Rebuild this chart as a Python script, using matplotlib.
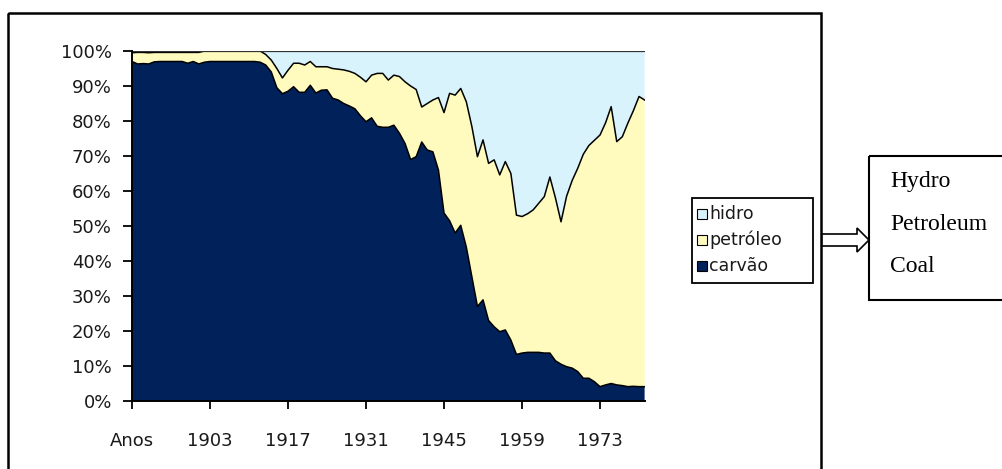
import matplotlib
matplotlib.use("Agg")
import matplotlib.pyplot as plt
import numpy as np
from matplotlib.patches import Rectangle, Polygon

# ---------------- data ----------------
start_year = 1889
n_years = 93
years = np.arange(start_year, start_year + n_years)

carvao = [97.0, 96.3, 96.4, 96.3, 96.9, 97.0, 97.0, 97.0, 97.0, 97.0,
          96.5, 97.0, 96.3, 96.8, 97.0, 97.0, 97.0, 97.0, 97.0, 97.0,
          97.0, 97.0, 97.0, 96.8, 96.0, 94.0, 89.5, 87.8, 88.5, 89.8,
          88.2, 88.2, 90.2, 88.0, 88.8, 88.9, 86.5, 86.0, 85.0, 84.3,
          83.5, 81.5, 79.8, 80.9, 78.5, 78.2, 78.2, 78.8, 76.5, 73.6,
          69.0, 69.8, 74.0, 71.7, 71.2, 66.0, 53.7, 51.5, 48.0, 50.2,
          44.0, 35.5, 27.0, 28.9, 23.0, 21.2, 19.8, 20.3, 17.4, 13.3,
          13.7, 13.9, 13.9, 13.9, 13.7, 13.7, 11.5, 10.5, 9.8, 9.4,
          8.4, 6.5, 6.5, 5.5, 4.1, 4.6, 5.0, 4.6, 4.4, 4.1,
          4.2, 4.1, 4.1]

petroleo = [2.5, 3.3, 3.2, 3.2, 2.7, 2.6, 2.6, 2.6, 2.6, 2.6,
            3.1, 2.6, 3.3, 3.2, 3.0, 3.0, 3.0, 3.0, 3.0, 3.0,
            3.0, 3.0, 3.0, 3.2, 3.0, 3.4, 5.5, 4.5, 6.0, 6.7,
            8.3, 7.8, 6.8, 7.5, 6.7, 6.6, 8.5, 8.8, 9.6, 9.9,
            10.1, 11.0, 11.4, 12.2, 15.1, 15.4, 13.5, 14.3, 16.2, 17.6,
            21.0, 19.2, 10.0, 13.3, 14.8, 20.7, 28.7, 36.4, 39.4, 39.1,
            41.5, 42.9, 42.8, 45.7, 44.9, 47.7, 44.8, 48.1, 47.6, 39.8,
            39.0, 39.6, 40.7, 42.6, 44.7, 50.3, 46.5, 40.7, 48.7, 53.6,
            58.1, 64.0, 66.5, 69.0, 71.9, 74.9, 79.1, 69.5, 71.1, 75.3,
            78.8, 82.9, 81.9]

hidro = [0.5, 0.4, 0.4, 0.5, 0.4, 0.4, 0.4, 0.4, 0.4, 0.4,
         0.4, 0.4, 0.4, 0.0, 0.0, 0.0, 0.0, 0.0, 0.0, 0.0,
         0.0, 0.0, 0.0, 0.0, 1.0, 2.6, 5.0, 7.7, 5.5, 3.5,
         3.5, 4.0, 3.0, 4.5, 4.5, 4.5, 5.0, 5.2, 5.4, 5.8,
         6.4, 7.5, 8.8, 6.9, 6.4, 6.4, 8.3, 6.9, 7.3, 8.8,
         10.0, 11.0, 16.0, 15.0, 14.0, 13.3, 17.6, 12.1, 12.6, 10.7,
         14.5, 21.6, 30.2, 25.4, 32.1, 31.1, 35.4, 31.6, 35.0, 46.9,
         47.3, 46.5, 45.4, 43.5, 41.6, 36.0, 42.0, 48.8, 41.5, 37.0,
         33.5, 29.5, 27.0, 25.5, 24.0, 20.5, 15.9, 25.9, 24.5, 20.6,
         17.0, 13.0, 14.0]

series_labels = ["hidro", "petróleo", "carvão"]
tick_every = 14
first_label = "Anos"
y_ticks = [0, 10, 20, 30, 40, 50, 60, 70, 80, 90, 100]
english_labels = ["Hydro", "Petroleum", "Coal"]

# ---------------- style ----------------
c_carvao = "#00215A"
c_petroleo = "#FFFBBF"
c_hidro = "#D9F3FC"
W, H = 1003, 469
tick_font = dict(family="DejaVu Sans", size=13)
legend_font = dict(family="DejaVu Sans", size=12.5)

fig = plt.figure(figsize=(W / 100, H / 100), dpi=100)
fig.patch.set_facecolor("white")

x = np.arange(n_years)
ax = fig.add_axes([132 / W, 1 - 401 / H, (644.6 - 132) / W, 350 / H])
ax.stackplot(x, carvao, petroleo, hidro,
             colors=[c_carvao, c_petroleo, c_hidro], linewidth=0)
cum1 = np.array(carvao)
cum2 = cum1 + np.array(petroleo)
cum3 = cum2 + np.array(hidro)
ax.plot(x, cum1, color="black", lw=1.1)
ax.plot(x, cum2, color="black", lw=1.1)
ax.plot(x, cum3, color="#333333", lw=0.9)

ax.set_xlim(0, n_years - 1)
ax.set_ylim(0, 100)
xt = list(range(0, n_years, tick_every))
ax.set_xticks(xt)
ax.set_xticklabels([first_label if i == 0 else str(years[i]) for i in xt],
                   fontdict=tick_font, color="#1a1a1a")
ax.set_yticks(y_ticks)
ax.set_yticklabels([f"{v}%" for v in y_ticks], fontdict=tick_font,
                   color="#1a1a1a")
ax.tick_params(axis="y", direction="out", length=6.5, width=1.3, pad=8)
ax.tick_params(axis="x", direction="out", length=6, width=1.3, pad=16)
for s in ["top", "right"]:
    ax.spines[s].set_visible(False)
for s in ["left", "bottom"]:
    ax.spines[s].set_linewidth(1.4)
    ax.spines[s].set_color("black")

# ---------------- overlay decorations ----------------
ov = fig.add_axes([0, 0, 1, 1], facecolor="none")
ov.set_xlim(0, W)
ov.set_ylim(H, 0)
ov.axis("off")

# outer chart frame
ov.add_patch(Rectangle((8, 13), 813, 470, fill=False, lw=1.8, ec="black"))

# legend box
leg_x0, leg_x1, leg_y0, leg_y1 = 692, 813, 198, 283
ov.add_patch(Rectangle((leg_x0, leg_y0), leg_x1 - leg_x0, leg_y1 - leg_y0,
                       fill=True, fc="white", lw=1.3, ec="black"))
row_y = [214, 240, 266]
for lab, col, yy in zip(series_labels, [c_hidro, c_petroleo, c_carvao], row_y):
    ov.add_patch(Rectangle((697, yy - 5), 10, 10, fc=col, ec="black", lw=0.8))
    ov.text(709, yy, lab, va="center", ha="left", color="#1a1a1a", **legend_font)

# hollow arrow
arrow_pts = [(822, 234), (857, 234), (857, 228), (869, 240),
             (857, 252), (857, 246), (822, 246)]
ov.add_patch(Polygon(arrow_pts, closed=True, fc="white", ec="black", lw=1.2))

# right box with English labels
ov.add_patch(Rectangle((869, 156), 150, 144, fill=False, lw=1.5, ec="black"))
for lab, yy in zip(english_labels, [182, 225, 267]):
    ov.text(890, yy, lab, va="center", ha="left", family="Liberation Serif",
            size=17, color="black")

fig.savefig("out.png", dpi=100, facecolor="white")
